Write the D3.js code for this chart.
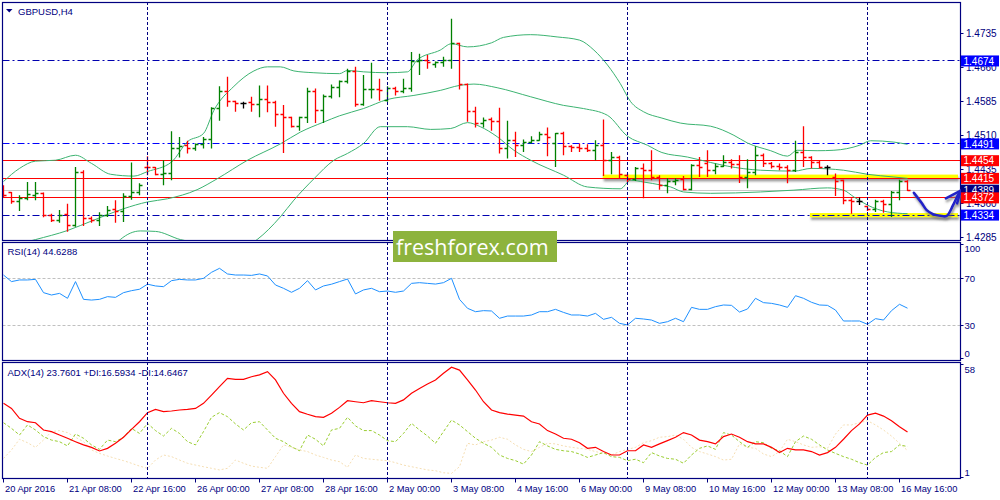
<!DOCTYPE html>
<html><head><meta charset="utf-8">
<script src="https://cdn.jsdelivr.net/npm/d3@7"></script>
<style>
html,body{margin:0;padding:0;background:#fff;}
svg{display:block;font-family:"Liberation Sans",Arial,sans-serif;}
</style></head><body>
<svg id="c" width="1000" height="500"></svg>
<script>
// ---------------- DATA ----------------
const symbolTitle = "GBPUSD,H4";
const rsiTitle = "RSI(14) 44.6288";
const adxTitle = "ADX(14) 23.7601 +DI:16.5934 -DI:14.6467";
const watermarkText = "freshforex.com";

const timeLabels = ["20 Apr 2016","21 Apr 08:00","22 Apr 16:00","26 Apr 00:00","27 Apr 08:00",
  "28 Apr 16:00","2 May 00:00","3 May 08:00","4 May 16:00","6 May 00:00","9 May 08:00",
  "10 May 16:00","12 May 00:00","13 May 08:00","16 May 16:00"];
const barsPerLabel = 8;
const weekStartBars = [18, 48, 78, 108];

const priceTicks = [1.4735, 1.4660, 1.4585, 1.4510, 1.4435, 1.4360, 1.4285];
const blueLevels = [1.4674, 1.4491, 1.4334];
const redLevels = [1.4454, 1.4415, 1.4372];
const bidPrice = 1.4389;
const highlightZones = [[1.4419, 74.9], [1.4334, 100.8]]; // [price, from bar]

// [open, high, low, close] per H4 bar
const ohlc = [
[1.4385,1.4400,1.4374,1.4378],[1.4383,1.4385,1.4359,1.4363],[1.4363,1.4378,1.4343,1.4371],
[1.4371,1.4407,1.4367,1.4379],[1.4378,1.4407,1.4367,1.4382],[1.4382,1.4384,1.4329,1.4332],
[1.4332,1.4337,1.4319,1.4323],[1.4323,1.4345,1.4317,1.4334],[1.4336,1.4359,1.4297,1.4310],
[1.4310,1.4440,1.4308,1.4429],[1.4429,1.4433,1.4310,1.4326],[1.4326,1.4331,1.4317,1.4323],
[1.4323,1.4340,1.4310,1.4334],[1.4334,1.4354,1.4330,1.4345],[1.4346,1.4367,1.4317,1.4342],
[1.4342,1.4382,1.4319,1.4376],[1.4376,1.4450,1.4368,1.4383],[1.4383,1.4404,1.4378,1.4400],
[1.4440,1.4464,1.4422,1.4438],[1.4438,1.4440,1.4422,1.4424],[1.4424,1.4455,1.4400,1.4426],
[1.4426,1.4519,1.4411,1.4481],[1.4481,1.4506,1.4461,1.4485],[1.4487,1.4498,1.4470,1.4480],
[1.4480,1.4492,1.4476,1.4490],[1.4490,1.4506,1.4481,1.4500],[1.4500,1.4572,1.4481,1.4569],
[1.4569,1.4618,1.4542,1.4606],[1.4606,1.4639,1.4573,1.4584],[1.4584,1.4586,1.4562,1.4580],
[1.4580,1.4584,1.4569,1.4580],[1.4582,1.4595,1.4562,1.4577],[1.4577,1.4620,1.4550,1.4589],
[1.4589,1.4620,1.4561,1.4582],[1.4582,1.4586,1.4529,1.4555],[1.4555,1.4577,1.4471,1.4549],
[1.4549,1.4551,1.4527,1.4530],[1.4530,1.4551,1.4520,1.4549],[1.4549,1.4615,1.4537,1.4606],
[1.4606,1.4613,1.4537,1.4564],[1.4564,1.4600,1.4537,1.4595],[1.4595,1.4622,1.4591,1.4615],
[1.4615,1.4631,1.4594,1.4628],[1.4628,1.4657,1.4624,1.4650],[1.4650,1.4661,1.4573,1.4577],
[1.4577,1.4643,1.4575,1.4610],[1.4610,1.4670,1.4591,1.4612],[1.4612,1.4635,1.4586,1.4608],
[1.4587,1.4618,1.4584,1.4613],[1.4613,1.4617,1.4598,1.4606],[1.4606,1.4635,1.4603,1.4613],
[1.4613,1.4694,1.4606,1.4672],[1.4672,1.4690,1.4643,1.4675],[1.4675,1.4687,1.4657,1.4670],
[1.4667,1.4673,1.4659,1.4670],[1.4670,1.4683,1.4661,1.4676],[1.4676,1.4767,1.4657,1.4712],
[1.4712,1.4714,1.4611,1.4623],[1.4623,1.4624,1.4540,1.4562],[1.4562,1.4573,1.4527,1.4535],
[1.4535,1.4549,1.4527,1.4543],[1.4545,1.4549,1.4520,1.4540],[1.4540,1.4571,1.4470,1.4481],
[1.4481,1.4542,1.4459,1.4499],[1.4499,1.4518,1.4462,1.4488],[1.4488,1.4501,1.4473,1.4495],
[1.4494,1.4508,1.4492,1.4498],[1.4498,1.4518,1.4498,1.4512],[1.4512,1.4527,1.4464,1.4505],
[1.4492,1.4515,1.4440,1.4514],[1.4514,1.4518,1.4466,1.4486],[1.4486,1.4488,1.4473,1.4484],
[1.4484,1.4492,1.4473,1.4481],[1.4481,1.4490,1.4473,1.4477],[1.4477,1.4499,1.4455,1.4488],
[1.4488,1.4545,1.4420,1.4454],[1.4454,1.4473,1.4424,1.4462],[1.4462,1.4465,1.4415,1.4424],
[1.4422,1.4426,1.4407,1.4412],[1.4412,1.4440,1.4409,1.4437],[1.4437,1.4448,1.4371,1.4433],
[1.4433,1.4477,1.4411,1.4418],[1.4418,1.4422,1.4390,1.4400],[1.4400,1.4415,1.4382,1.4407],
[1.4407,1.4415,1.4400,1.4411],[1.4413,1.4420,1.4389,1.4390],[1.4390,1.4446,1.4389,1.4444],
[1.4444,1.4462,1.4418,1.4440],[1.4447,1.4477,1.4418,1.4433],[1.4433,1.4448,1.4424,1.4442],
[1.4442,1.4466,1.4440,1.4449],[1.4449,1.4457,1.4437,1.4446],[1.4446,1.4466,1.4405,1.4418],
[1.4418,1.4457,1.4393,1.4429],[1.4429,1.4486,1.4422,1.4466],[1.4466,1.4470,1.4440,1.4448],
[1.4448,1.4451,1.4437,1.4442],[1.4442,1.4448,1.4433,1.4440],[1.4440,1.4444,1.4404,1.4433],
[1.4433,1.4498,1.4429,1.4473],[1.4473,1.4530,1.4440,1.4462],[1.4462,1.4464,1.4437,1.4449],
[1.4451,1.4455,1.4437,1.4440],[1.4440,1.4444,1.4422,1.4440],[1.4418,1.4426,1.4376,1.4407],
[1.4410,1.4412,1.4358,1.4367],[1.4367,1.4371,1.4337,1.4365],[1.4365,1.4373,1.4356,1.4365],
[1.4352,1.4354,1.4343,1.4346],[1.4346,1.4368,1.4341,1.4363],[1.4363,1.4368,1.4339,1.4358],
[1.4358,1.4387,1.4330,1.4383],[1.4383,1.4412,1.4367,1.4409],[1.4409,1.4411,1.4387,1.4389]
];

// Bollinger bands: [bar, price]
const bbUpper = [[0,1.4408],[2,1.4437],[4,1.4453],[6.5,1.4455],[9,1.4466],[11,1.4448],[13.4,1.4424],
[16.3,1.4420],[18,1.4430],[21,1.4451],[23,1.4496],[25,1.4514],[26.3,1.4565],[28.8,1.4618],[31.3,1.4652],
[33,1.4661],[34.6,1.4661],[36.3,1.4652],[38.8,1.4648],[42,1.4646],[43,1.4653],[45,1.4650],[48,1.4648],
[50.5,1.4650],[51.7,1.4676],[54.6,1.4698],[56,1.4712],[58,1.4705],[61,1.4714],[62.5,1.4726],[65.9,1.4732],
[69.2,1.4727],[72,1.4720],[73.8,1.4698],[75.5,1.4665],[77.1,1.4624],[78.4,1.4584],[80,1.4562],[82.3,1.4548],
[84.6,1.4537],[88.4,1.4530],[91.3,1.4510],[93,1.4493],[95.9,1.4476],[98,1.4464],[99.2,1.4477],[101.7,1.4476],
[103.8,1.4477],[107,1.4488],[108.4,1.4498],[111.3,1.4495],[113,1.4490]];
const bbMiddle = [[0,1.4262],[4,1.4280],[8,1.4300],[11.3,1.4323],[15,1.4348],[18,1.4363],[20.5,1.4370],
[24.2,1.4390],[26.7,1.4414],[30.5,1.4455],[34.6,1.4491],[37.1,1.4517],[40,1.4539],[42,1.4553],[45,1.4569],
[48,1.4589],[51.3,1.4598],[54.6,1.4609],[57,1.4620],[58.8,1.4623],[61.7,1.4615],[65.9,1.4595],[70,1.4576],
[72.5,1.4569],[75.5,1.4554],[78,1.4508],[80.5,1.4488],[82.3,1.4472],[85.5,1.4462],[88.4,1.4450],[90.5,1.4442],
[94.6,1.4433],[98.8,1.4431],[101,1.4437],[105,1.4433],[108,1.4424],[111.3,1.4418],[113,1.4415]];
const bbLower = [[0,1.4116],[4,1.4107],[8,1.4138],[11.3,1.4200],[13,1.4249],[14.6,1.4280],[17.1,1.4299],
[19,1.4298],[22.1,1.4280],[24.2,1.4272],[26.7,1.4245],[28.8,1.4258],[30.5,1.4266],[31.7,1.4280],[34.6,1.4330],
[36.3,1.4367],[38.8,1.4414],[41.3,1.4455],[43,1.4470],[45,1.4492],[47.1,1.4529],[50.5,1.4529],[53.4,1.4523],
[55.9,1.4525],[58,1.4538],[59.6,1.4529],[61.7,1.4507],[63.8,1.4477],[65.9,1.4455],[70,1.4422],[73,1.4396],
[77.1,1.4392],[78.4,1.4411],[80,1.4407],[82.3,1.4400],[83.4,1.4396],[85,1.4385],[88.4,1.4382],[94.6,1.4385],
[98.8,1.4389],[103,1.4394],[105,1.4389],[106.3,1.4374],[108,1.4356],[110.5,1.4341],[113,1.4337]];

const rsi = [72.8,67.2,68.6,68.6,69.1,57.8,55.8,57.2,53.0,67.2, 52.1,51.5,52.1,54.4,53.8,57.8,59.5,60.7,65.0,63.5,
62.9,68.0,69.1,68.6,68.6,70.0,75.1,78.5,73.7,72.8, 72.8,72.5,73.7,72.0,64.3,61.5,58.1,61.5,68.0,60.1,
63.5,65.0,67.2,69.4,56.7,60.1,61.5,58.6,59.2,58.1, 59.2,65.7,66.3,65.7,65.1,66.3,70.0,52.1,44.5,41.6,
42.5,42.2,36.0,37.9,37.9,37.9,38.8,41.6,41.6,43.6, 41.0,38.8,38.8,37.9,40.2,35.1,36.8,31.7,30.3,36.0,
35.4,34.5,31.7,33.1,36.0,33.1,45.3,43.6,43.6,45.9, 47.3,47.0,41.3,43.9,53.0,49.3,48.7,47.3,45.3,55.2,
53.0,49.6,47.3,47.0,43.0,33.7,33.7,33.7,30.9,35.7, 34.5,42.5,47.9,44.6];
const rsiLevels = [70, 30];
const rsiScaleLabels = [100, 70, 30, 0];

const adx = [38.0,35.5,30.6,28.9,28.4,24.8,24.0,22.3,20.7,19.0, 17.4,16.2,14.4,15.7,18.2,21.2,25.1,28.9,33.4,35.0,
33.9,34.2,34.7,35.0,35.5,38.0,42.1,46.3,50.4,49.9, 49.9,51.2,52.1,53.7,49.6,43.0,38.0,33.9,32.6,31.4,
31.1,33.1,36.0,39.3,38.8,38.3,39.3,38.8,38.3,38.0, 39.7,43.0,45.4,47.6,49.6,52.9,55.9,54.5,49.6,44.6,
38.8,34.7,33.4,32.7,32.2,31.7,28.9,27.8,24.5,22.8, 20.7,20.2,18.5,15.7,16.2,14.1,12.4,12.4,14.5,14.5,
17.4,16.2,17.9,19.5,21.2,23.5,22.3,19.8,19.0,17.9, 21.5,22.8,21.2,19.0,17.9,17.9,16.2,13.6,15.7,14.9,
14.9,14.1,12.4,13.6,16.2,20.2,24.5,27.8,32.2,33.1, 31.7,29.4,26.4,23.8];
const plusDI = [28.4,25.6,22.3,27.3,24.8,21.5,19.8,19.0,16.9,22.8, 20.7,17.4,15.2,19.8,19.0,21.2,25.6,23.1,28.1,24.5,
21.8,25.6,23.1,19.0,17.4,24.0,31.1,33.4,31.4,27.8, 24.8,28.4,28.9,24.8,20.7,19.0,16.5,14.5,22.3,20.2,
16.9,24.8,25.6,31.1,26.8,24.5,24.5,22.3,19.5,19.0, 23.1,28.1,24.8,21.8,18.2,24.0,29.7,27.3,24.0,20.7,
18.2,16.2,12.4,10.7,9.6,7.9,12.4,19.0,16.9,15.2, 14.5,14.1,12.9,11.2,12.4,13.6,11.6,11.2,9.6,10.3,
8.6,13.6,11.9,10.7,10.3,8.3,12.4,15.7,16.9,15.2, 23.5,22.3,19.0,16.2,19.0,18.5,15.7,14.5,11.6,19.0,
21.8,20.2,17.4,14.9,13.2,11.6,10.3,8.6,7.4,11.2, 13.6,14.1,17.4,16.6];
const minusDI = [10.7,14.9,20.2,18.5,16.2,19.8,24.0,24.5,23.5,21.2, 19.0,14.9,13.2,11.9,10.7,9.6,8.3,6.9,5.8,9.9,
12.4,11.6,9.9,8.3,7.4,6.6,5.8,5.0,5.8,9.9, 8.3,6.9,6.3,5.8,11.6,17.4,16.2,14.9,14.1,12.4,
11.2,9.9,9.1,6.3,12.4,10.7,10.3,9.9,9.6,8.6, 7.4,6.6,5.8,5.0,4.6,3.6,3.3,6.6,18.2,17.4,
19.0,19.8,21.2,20.2,17.4,15.2,14.1,16.2,18.2,17.9, 16.9,16.2,15.7,15.2,14.1,13.2,12.4,14.1,15.2,16.2,
18.5,19.5,21.2,21.5,22.3,20.2,16.2,14.1,12.9,11.6, 9.9,10.3,17.9,16.2,15.7,12.9,11.6,14.1,20.2,19.0,
17.4,16.2,16.5,15.7,22.8,27.3,27.3,28.4,29.4,27.3, 24.8,21.8,18.2,14.6];
const adxScaleLabels = [58, 1];

// hand-drawn forecast arrow: [bar, price]
const forecastPath = [[113.8,1.4383],[114.8,1.4360],[115.4,1.4345],[116.2,1.4336],[117.3,1.4332],
  [117.9,1.4332],[118.7,1.4356],[119.3,1.4378],[119.65,1.4388]];
const arrowHead = [[117.8,1.4371],[119.65,1.4388],[119.2,1.4360]];

// ---------------- DRAW ----------------
const NAVY = "#000080";
const L = 2.5, R = 960.5;
const P = {main:[2, 240], rsi:[242, 360], adx:[362, 478]};
const svg = d3.select("#c");
svg.append("rect").attr("width",1000).attr("height",500).attr("fill","#fff");
const defs = svg.append("defs");
const sh = defs.append("filter").attr("id","shadow").attr("x","-20%").attr("y","-60%").attr("width","140%").attr("height","320%");
sh.append("feDropShadow").attr("dx",1).attr("dy",2.5).attr("stdDeviation",1.3)
  .attr("flood-color","#707070").attr("flood-opacity",0.75);
for (const k in P) {
  defs.append("clipPath").attr("id","clip-"+k).append("rect")
    .attr("x",L).attr("y",P[k][0]).attr("width",R-L).attr("height",P[k][1]-P[k][0]);
}

const n = ohlc.length;
const x = d3.scaleLinear().domain([0, n-1]).range([3.5, 3.5 + 8*(n-1)]);
const y = d3.scaleLinear().domain([1.4285, 1.4735]).range([237.3, 33.3]);
const yR = d3.scaleLinear().domain([0, 100]).range([360.6, 243.05]);
const yA = d3.scaleLinear().domain([1, 58]).range([478, 363]);
const crisp = v => Math.floor(v) + 0.5;

const gMain = svg.append("g").attr("clip-path","url(#clip-main)");
const gRsi = svg.append("g").attr("clip-path","url(#clip-rsi)");
const gAdx = svg.append("g").attr("clip-path","url(#clip-adx)");

// weekly separators
for (const k in P) {
  svg.append("g").selectAll("line").data(weekStartBars).join("line")
    .attr("x1",d=>x(d)).attr("x2",d=>x(d)).attr("y1",P[k][0]).attr("y2",P[k][1])
    .attr("stroke",NAVY).attr("stroke-width",1).attr("stroke-dasharray","3,2");
}

// highlight zones
gMain.selectAll("rect.hz").data(highlightZones).join("rect").attr("class","hz")
  .attr("x",d=>x(d[1])).attr("width",d=>958 - x(d[1]))
  .attr("y",d=>y(d[0])-2).attr("height",4.2)
  .attr("fill","#ffff00").attr("filter","url(#shadow)");

// bid line
gMain.append("line").attr("x1",L).attr("x2",R).attr("y1",crisp(y(bidPrice))).attr("y2",crisp(y(bidPrice)))
  .attr("stroke","#c8c8c8").attr("stroke-width",1);
// blue dash-dot levels
gMain.selectAll("line.bl").data(blueLevels).join("line").attr("class","bl")
  .attr("x1",L).attr("x2",R).attr("y1",d=>crisp(y(d))).attr("y2",d=>crisp(y(d)))
  .attr("stroke",(d,i)=> i===1 ? "#0000ff" : "#0000b0").attr("stroke-width",1.2)
  .attr("stroke-dasharray","7,3,2,3");
// red levels
gMain.selectAll("line.rl").data(redLevels).join("line").attr("class","rl")
  .attr("x1",L).attr("x2",R).attr("y1",d=>crisp(y(d))).attr("y2",d=>crisp(y(d)))
  .attr("stroke","#ff0000").attr("stroke-width",1.2);

// Bollinger bands
const bbLine = d3.line().x(d=>x(d[0])).y(d=>y(d[1])).curve(d3.curveMonotoneX);
[bbUpper, bbMiddle, bbLower].forEach(b=>{
  gMain.append("path").attr("d",bbLine(b)).attr("fill","none")
    .attr("stroke","#3cb371").attr("stroke-width",1);
});

// OHLC bars
const barColor = d => d[3] > d[0] ? "#008000" : (d[3] < d[0] ? "#ff0000" : "#000000");
const bg = gMain.append("g").selectAll("g").data(ohlc).join("g")
  .attr("stroke",barColor).attr("stroke-width",1.3);
bg.append("line").attr("x1",(d,i)=>x(i)).attr("x2",(d,i)=>x(i)).attr("y1",d=>y(d[1])).attr("y2",d=>y(d[2]));
bg.append("line").attr("x1",(d,i)=>x(i)-3).attr("x2",(d,i)=>x(i)).attr("y1",d=>crisp(y(d[0]))).attr("y2",d=>crisp(y(d[0])));
bg.append("line").attr("x1",(d,i)=>x(i)).attr("x2",(d,i)=>x(i)+3).attr("y1",d=>crisp(y(d[3]))).attr("y2",d=>crisp(y(d[3])));

// RSI
gRsi.selectAll("line.lv").data(rsiLevels).join("line").attr("class","lv")
  .attr("x1",L).attr("x2",R).attr("y1",d=>crisp(yR(d))).attr("y2",d=>crisp(yR(d)))
  .attr("stroke","#c0c0c0").attr("stroke-dasharray","3,2");
gRsi.append("path").attr("d", d3.line().x((d,i)=>x(i)).y(d=>yR(d))(rsi))
  .attr("fill","none").attr("stroke","#1e90ff").attr("stroke-width",1);

// ADX
gAdx.append("path").attr("d", d3.line().x((d,i)=>x(i)).y(d=>yA(d))(minusDI))
  .attr("fill","none").attr("stroke","#f5deb3").attr("stroke-width",1).attr("stroke-dasharray","2,2");
gAdx.append("path").attr("d", d3.line().x((d,i)=>x(i)).y(d=>yA(d))(plusDI))
  .attr("fill","none").attr("stroke","#9acd32").attr("stroke-width",1).attr("stroke-dasharray","3,2");
gAdx.append("path").attr("d", d3.line().x((d,i)=>x(i)).y(d=>yA(d))(adx))
  .attr("fill","none").attr("stroke","#ff0000").attr("stroke-width",1.2);

// panel borders
for (const k in P) {
  svg.append("rect").attr("x",L).attr("y",P[k][0]+0.5).attr("width",R-L).attr("height",P[k][1]-P[k][0])
    .attr("fill","none").attr("stroke",NAVY).attr("stroke-width",1.2);
}

// forecast arrow
const fLine = d3.line().x(d=>x(d[0])).y(d=>y(d[1]));
const ag = svg.append("g").attr("filter","url(#shadow)").attr("fill","none")
  .attr("stroke","#2222c8").attr("stroke-width",2.6).attr("stroke-linecap","round").attr("stroke-linejoin","round");
ag.append("path").attr("d", fLine.curve(d3.curveCatmullRom)(forecastPath));
ag.append("path").attr("d", d3.line().x(d=>x(d[0])).y(d=>y(d[1]))(arrowHead));

// price axis
const pa = svg.append("g");
pa.selectAll("line").data(priceTicks).join("line")
  .attr("x1",R).attr("x2",R+3).attr("y1",d=>crisp(y(d))).attr("y2",d=>crisp(y(d))).attr("stroke",NAVY);
pa.selectAll("text").data(priceTicks).join("text")
  .attr("x",966).attr("y",d=>y(d)).attr("dy","0.35em").attr("font-size","10px").attr("fill",NAVY)
  .text(d=>d3.format(".4f")(d));

// price tags
const tags = [[blueLevels[0],"#0000ff"],[blueLevels[1],"#0000ff"],[redLevels[0],"#ff0000"],
  [redLevels[1],"#ff0000"],[bidPrice,"#000080"],[redLevels[2],"#ff0000"],[blueLevels[2],"#0000ff"]];
const tg = svg.append("g").selectAll("g").data(tags).join("g");
tg.append("rect").attr("x",961).attr("y",d=>y(d[0])-5.5).attr("width",38).attr("height",11).attr("fill",d=>d[1]);
tg.append("text").attr("x",963.5).attr("y",d=>y(d[0])).attr("dy","0.36em").attr("font-size","10px")
  .attr("fill","#fff").text(d=>d3.format(".4f")(d[0]));

// RSI scale
const rs = svg.append("g");
const rsiLabelY = v => v===100 ? yR(v)+6 : (v===0 ? yR(v)-7 : yR(v));
const rsiTickY = v => v===100 ? yR(v)+1 : (v===0 ? yR(v)-2.5 : yR(v));
rs.selectAll("line").data(rsiScaleLabels).join("line").attr("x1",R).attr("x2",R+3)
  .attr("y1",d=>crisp(rsiTickY(d))).attr("y2",d=>crisp(rsiTickY(d))).attr("stroke",NAVY);
rs.selectAll("text").data(rsiScaleLabels).join("text").attr("x",964.5).attr("y",rsiLabelY)
  .attr("dy","0.35em").attr("font-size","9.5px").attr("fill",NAVY).text(d=>d);

// ADX scale
const as = svg.append("g");
const adxLabelY = v => v===adxScaleLabels[0] ? yA(v)+7 : yA(v)-5.5;
const adxTickY = v => v===adxScaleLabels[0] ? yA(v)+1 : yA(v)-1;
as.selectAll("line").data(adxScaleLabels).join("line").attr("x1",R).attr("x2",R+3)
  .attr("y1",d=>crisp(adxTickY(d))).attr("y2",d=>crisp(adxTickY(d))).attr("stroke",NAVY);
as.selectAll("text").data(adxScaleLabels).join("text").attr("x",964.5).attr("y",adxLabelY)
  .attr("dy","0.35em").attr("font-size","9.5px").attr("fill",NAVY).text(d=>d);

// time axis
const tIdx = timeLabels.map((t,i)=>i*barsPerLabel);
const ta = svg.append("g");
ta.selectAll("line").data(tIdx).join("line").attr("x1",d=>x(d)).attr("x2",d=>x(d))
  .attr("y1",478).attr("y2",482.5).attr("stroke",NAVY);
ta.selectAll("text").data(timeLabels).join("text").attr("x",(d,i)=>x(tIdx[i])+1.5).attr("y",492)
  .attr("font-size","9.3px").attr("fill",NAVY).text(d=>d);

// titles
svg.append("path").attr("d","M6,9 L12.5,9 L9.25,12.5 Z").attr("fill",NAVY);
svg.append("text").attr("x",18).attr("y",15).attr("font-size","9.5px").attr("fill",NAVY).text(symbolTitle);
svg.append("text").attr("x",7.5).attr("y",255).attr("font-size","9.5px").attr("fill",NAVY).text(rsiTitle);
svg.append("text").attr("x",7.5).attr("y",376).attr("font-size","9.5px").attr("fill",NAVY).text(adxTitle);

// watermark
svg.append("rect").attr("x",393).attr("y",231).attr("width",164).attr("height",31).attr("fill","#8db33d");
svg.append("text").attr("x",396).attr("y",255).attr("font-family","'Open Sans',sans-serif")
  .attr("font-size","21.5px").attr("fill","#fff").text(watermarkText);
</script></body></html>
